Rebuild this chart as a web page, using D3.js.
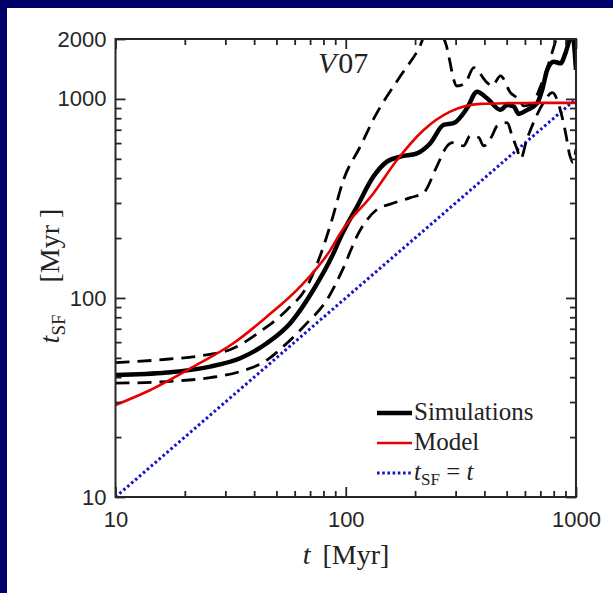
<!DOCTYPE html>
<html>
<head>
<meta charset="utf-8">
<script src="https://cdn.jsdelivr.net/npm/d3@7"></script>
<style>
  html, body { margin: 0; padding: 0; background: #00006b; }
  svg { display: block; }
</style>
</head>
<body>
<svg id="chart" width="613" height="593"></svg>
<script>
// Star-formation timescale t_SF versus time t (log-log), run V07.

// Simulations: mean (solid) and spread (dashed upper / lower)
const simTime = [10, 16.7, 25.8, 34.8, 45.4, 57.4, 72.4, 88.5, 94.6, 112, 132, 151, 173, 204, 233, 266, 294, 336, 372, 411, 470, 502, 537, 564, 614, 678, 713, 750, 800, 857, 900, 946, 962, 980, 1000];
const simTsf  = [41, 42.2, 45.2, 49.8, 59.2, 74.7, 110, 168, 200, 288, 408, 484, 513, 533, 599, 740, 755, 897, 1088, 1007, 881, 933, 915, 841, 881, 951, 1109, 1400, 1538, 1510, 1698, 2050, 2150, 1900, 1400];

const hiTime = [10, 16.7, 23.3, 32.5, 42.5, 55.5, 67.8, 77, 86, 98, 116, 132, 173, 207, 235, 271, 304, 330, 360, 411, 432, 470, 519, 564, 593, 640, 700, 760, 820, 860, 1000];
const hiTsf  = [47.3, 49.2, 51.2, 55.9, 67.8, 87, 114, 160, 235, 395, 581, 791, 1306, 1778, 2400, 1918, 1161, 1200, 1435, 1208, 1161, 1306, 1076, 996, 922, 940, 1150, 1500, 2000, 2400, 3000];

const loTime = [10, 16.7, 25.8, 34.8, 45.4, 55.5, 67.8, 82.8, 97.8, 112, 137, 156, 191, 218, 249, 276, 290, 325, 347, 378, 397, 432, 454, 502, 528, 555, 575, 610, 660, 720, 790, 850, 900, 940, 970, 1000];
const loTsf  = [37.3, 38, 39.8, 42.7, 48.7, 59.2, 74.7, 97.7, 142, 205, 279, 296, 319, 338, 460, 581, 603, 581, 652, 640, 581, 652, 731, 760, 652, 558, 500, 620, 780, 950, 1076, 900, 680, 520, 480, 560];

// Model prediction
const modelTime = [10, 14.1, 21.8, 32.5, 45.4, 63.4, 85.7, 94.6, 132, 167, 218, 284, 385, 500, 700, 1000];
const modelTsf  = [29, 34.4, 45.2, 59.2, 80.5, 114, 174, 211, 336, 493, 698, 863, 944, 952, 955, 955];

// Reference line t_SF = t
const refTime = [10, 1000];
const refTsf  = [10, 1000];

// Axis ticks
const xMajor = [10, 100, 1000];
const xMinor = [20, 30, 40, 50, 60, 70, 80, 90, 200, 300, 400, 500, 600, 700, 800, 900];
const yMajor = [10, 100, 1000, 2000];
const yMinor = [20, 30, 40, 50, 60, 70, 80, 90, 200, 300, 400, 500, 600, 700, 800, 900];

const legendItems = ["Simulations", "Model", "tsf"];

const svg = d3.select("#chart");
const W = 613, H = 593;
const pLeft = 115.5, pRight = 576, pTop = 39, pBottom = 497;
const axisColor = "#262626";

// White figure panel on the navy page
svg.append("rect").attr("x", 7).attr("y", 8).attr("width", W - 7).attr("height", H - 8).attr("fill", "#ffffff");

const x = d3.scaleLog().domain([10, 1000]).range([pLeft, pRight]);
const y = d3.scaleLog().domain([10, 2000]).range([pBottom, pTop]);

svg.append("defs").append("clipPath").attr("id", "plotClip")
  .append("rect").attr("x", pLeft).attr("y", pTop).attr("width", pRight - pLeft).attr("height", pBottom - pTop);

const plot = svg.append("g").attr("clip-path", "url(#plotClip)");

const line = d3.line().x(d => x(d[0])).y(d => y(d[1])).curve(d3.curveMonotoneX);
const straight = d3.line().x(d => x(d[0])).y(d => y(d[1]));
const zip = (a, b) => a.map((v, i) => [v, b[i]]);

// Reference line
plot.append("path").datum(zip(refTime, refTsf)).attr("d", straight)
  .attr("fill", "none").attr("stroke", "#1414cc").attr("stroke-width", 3).attr("stroke-dasharray", "2.6 2.6");

// Spread of simulations (dashed)
[zip(hiTime, hiTsf), zip(loTime, loTsf)].forEach(s => {
  plot.append("path").datum(s).attr("d", line)
    .attr("fill", "none").attr("stroke", "#000").attr("stroke-width", 2.8)
    .attr("stroke-dasharray", "14 8");
});

// Simulation mean
plot.append("path").datum(zip(simTime, simTsf)).attr("d", line)
  .attr("fill", "none").attr("stroke", "#000").attr("stroke-width", 4.5).attr("stroke-linejoin", "round");

// Model
plot.append("path").datum(zip(modelTime, modelTsf)).attr("d", line)
  .attr("fill", "none").attr("stroke", "#e60000").attr("stroke-width", 2.6);

// Axes with inward ticks on all four sides
function finish(g, withText) {
  g.select(".domain").remove();
  g.selectAll(".tick line").attr("stroke", axisColor).attr("stroke-width", 1.8);
  if (withText) {
    g.selectAll(".tick text").attr("fill", axisColor)
      .style("font-family", "'Liberation Sans', Arial, sans-serif").style("font-size", "22px");
  } else {
    g.selectAll(".tick text").remove();
  }
}
const fmt = d3.format("d");

svg.append("g").attr("transform", `translate(0,${pBottom})`)
  .call(d3.axisBottom(x).tickValues(xMajor).tickSize(-10).tickPadding(14).tickFormat(fmt)).call(g => finish(g, true));
svg.append("g").attr("transform", `translate(0,${pBottom})`)
  .call(d3.axisBottom(x).tickValues(xMinor).tickSize(-6)).call(g => finish(g, false));
svg.append("g").attr("transform", `translate(0,${pTop})`)
  .call(d3.axisTop(x).tickValues(xMajor).tickSize(-10)).call(g => finish(g, false));
svg.append("g").attr("transform", `translate(0,${pTop})`)
  .call(d3.axisTop(x).tickValues(xMinor).tickSize(-6)).call(g => finish(g, false));

svg.append("g").attr("transform", `translate(${pLeft},0)`)
  .call(d3.axisLeft(y).tickValues(yMajor).tickSize(-10).tickPadding(9).tickFormat(fmt)).call(g => finish(g, true));
svg.append("g").attr("transform", `translate(${pLeft},0)`)
  .call(d3.axisLeft(y).tickValues(yMinor).tickSize(-6)).call(g => finish(g, false));
svg.append("g").attr("transform", `translate(${pRight},0)`)
  .call(d3.axisRight(y).tickValues(yMajor).tickSize(-10)).call(g => finish(g, false));
svg.append("g").attr("transform", `translate(${pRight},0)`)
  .call(d3.axisRight(y).tickValues(yMinor).tickSize(-6)).call(g => finish(g, false));

// Box
svg.append("rect").attr("x", pLeft).attr("y", pTop).attr("width", pRight - pLeft).attr("height", pBottom - pTop)
  .attr("fill", "none").attr("stroke", axisColor).attr("stroke-width", 2);

const serif = "'Liberation Serif', 'Times New Roman', serif";

// Run label
const runLabel = svg.append("text").attr("x", 318).attr("y", 73)
  .style("font-family", serif).style("font-size", "30px").attr("fill", "#222");
runLabel.append("tspan").style("font-style", "italic").text("V");
runLabel.append("tspan").attr("dx", 2).text("07");

// Axis titles
const xt = svg.append("text").attr("x", 346).attr("y", 564).attr("text-anchor", "middle")
  .style("font-family", serif).style("font-size", "28px").attr("fill", "#222");
xt.append("tspan").style("font-style", "italic").text("t");
xt.append("tspan").attr("dx", 12).text("[Myr]");

const yt = svg.append("text").attr("transform", "translate(59,276) rotate(-90)").attr("text-anchor", "middle")
  .style("font-family", serif).style("font-size", "28px").attr("fill", "#222");
yt.append("tspan").style("font-style", "italic").text("t");
yt.append("tspan").attr("dy", 6).style("font-size", "19px").text("SF");
yt.append("tspan").attr("dy", -6).attr("dx", 32).text("[Myr ]");

// Legend
const legend = svg.append("g");
const legY = [413, 443, 473];
const legStyles = [
  { stroke: "#000", width: 4.5, dash: null },
  { stroke: "#e60000", width: 2.6, dash: null },
  { stroke: "#1414cc", width: 3, dash: "2.6 2.6" }
];
legendItems.forEach((name, i) => {
  const st = legStyles[i];
  legend.append("line").attr("x1", 377).attr("x2", 412).attr("y1", legY[i]).attr("y2", legY[i])
    .attr("stroke", st.stroke).attr("stroke-width", st.width).attr("stroke-dasharray", st.dash);
  const t = legend.append("text").attr("x", 414).attr("y", legY[i] + 7)
    .style("font-family", serif).style("font-size", "25px").attr("fill", "#222");
  if (name === "tsf") {
    t.append("tspan").style("font-style", "italic").text("t");
    t.append("tspan").attr("dy", 5).style("font-size", "17px").text("SF");
    t.append("tspan").attr("dy", -5).text(" = ");
    t.append("tspan").style("font-style", "italic").text("t");
  } else {
    t.text(name);
  }
});
</script>
</body>
</html>
